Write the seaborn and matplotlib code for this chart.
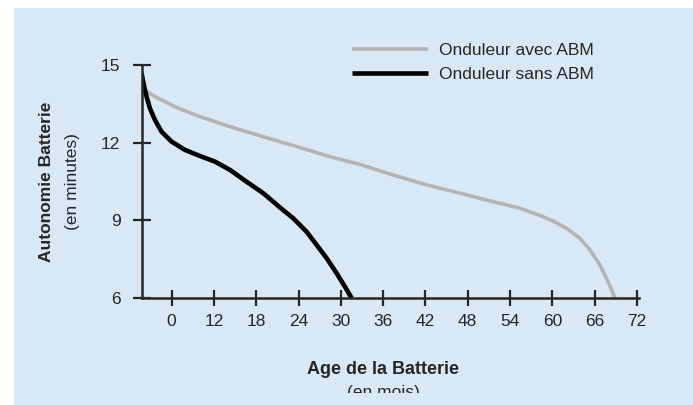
import numpy as np
import pandas as pd
import matplotlib
matplotlib.use('Agg')
import matplotlib.pyplot as plt
import seaborn as sns
from matplotlib.patches import Rectangle

# x is the position along the axis (one tick every 6 units), y is minutes
avec_x = [-4.2, -2.37, 0.47, 3.55, 8.27, 12.99, 17.73, 22.45, 26.71, 31.43,
          36.17, 40.89, 45.62, 49.40, 52.24, 54.13, 56.03, 57.91, 59.33,
          60.75, 61.93, 62.88]
avec_y = [14.08, 13.78, 13.39, 13.05, 12.62, 12.23, 11.85, 11.46, 11.16, 10.75,
          10.37, 10.05, 9.72, 9.47, 9.19, 8.97, 8.69, 8.31, 7.86, 7.28, 6.63, 6.0]
sans_x = [-4.26, -3.89, -3.55, -3.08, -2.37, -1.42, 0.0, 1.89, 4.26, 6.14,
          8.27, 10.64, 12.99, 15.36, 17.25, 19.15, 20.57, 21.99, 23.40, 24.58,
          25.53]
sans_y = [14.68, 14.16, 13.78, 13.33, 12.88, 12.42, 12.04, 11.72, 11.46, 11.27,
          10.95, 10.49, 10.05, 9.50, 9.08, 8.56, 8.05, 7.54, 6.96, 6.44, 6.0]
x_ticks = [0, 6, 12, 18, 24, 30, 36, 42, 48, 54, 60, 66]
x_labels = ['0', '12', '18', '24', '30', '36', '42', '48', '54', '60', '66', '72']
y_ticks = [6, 9, 12, 15]

bg = '#d8e8f5'
regular = ['Liberation Sans', 'DejaVu Sans']

sns.set_style('ticks')
plt.rcParams['font.family'] = regular

df_avec = pd.DataFrame({'age': avec_x, 'autonomie': avec_y})
df_sans = pd.DataFrame({'age': sans_x, 'autonomie': sans_y})

fig = plt.figure(figsize=(6.93, 4.05), dpi=100, facecolor='white')
fig.add_artist(Rectangle((14 / 693, 0), 1, 1 - 8 / 405, transform=fig.transFigure,
                         facecolor=bg, edgecolor='none', zorder=0))

ax = fig.add_axes([142 / 693, 107 / 405, 497 / 693, 233 / 405])
ax.set_facecolor('none')

sns.lineplot(data=df_avec, x='age', y='autonomie', ax=ax, color='#b4b4b4',
             linewidth=2.6, label='Onduleur avec ABM',
             solid_joinstyle='round', solid_capstyle='butt')
sns.lineplot(data=df_sans, x='age', y='autonomie', ax=ax, color='black',
             linewidth=3.3, label='Onduleur sans ABM',
             solid_joinstyle='round', solid_capstyle='butt')

ax.set_xlim(-4.2, 66.3)
ax.set_ylim(6, 15)
ax.set_xticks(x_ticks)
ax.set_xticklabels(x_labels)
ax.set_yticks(y_ticks)
for s in ['top', 'right']:
    ax.spines[s].set_visible(False)
for s in ['left', 'bottom']:
    ax.spines[s].set_linewidth(1.8)
    ax.spines[s].set_clip_on(False)
ax.tick_params(axis='x', direction='inout', length=11, width=1.6, pad=6,
               labelsize=12.5)
ax.tick_params(axis='y', direction='inout', length=13, width=1.6, pad=9,
               labelsize=12.5)
ax.set_xlabel('')
ax.set_ylabel('')

leg = ax.legend(loc='upper left', bbox_to_anchor=(352 / 693, 1 - 43 / 405),
                bbox_transform=fig.transFigure, frameon=False,
                handlelength=4.4, handletextpad=0.6, labelspacing=0.48,
                borderaxespad=0, borderpad=0,
                prop={'family': regular, 'size': 12.5})

fig.text(383 / 693, 1 - 370 / 405, 'Age de la Batterie', ha='center', va='center',
         fontsize=13, fontweight='bold')
fig.text(383 / 693, 1 - 393 / 405, '(en mois)', ha='center', va='center',
         fontsize=12.5, zorder=2)
fig.add_artist(Rectangle((0.2, 0), 0.6, 12 / 405, transform=fig.transFigure,
                         facecolor=bg, edgecolor='none', zorder=5))
fig.text(47 / 693, 1 - 182 / 405, 'Autonomie Batterie', ha='center', va='center',
         rotation=90, fontsize=12.5, fontweight='bold')
fig.text(73 / 693, 1 - 182 / 405, '(en minutes)', ha='center', va='center',
         rotation=90, fontsize=12.5)

fig.savefig('out.png', dpi=100, facecolor='white')
